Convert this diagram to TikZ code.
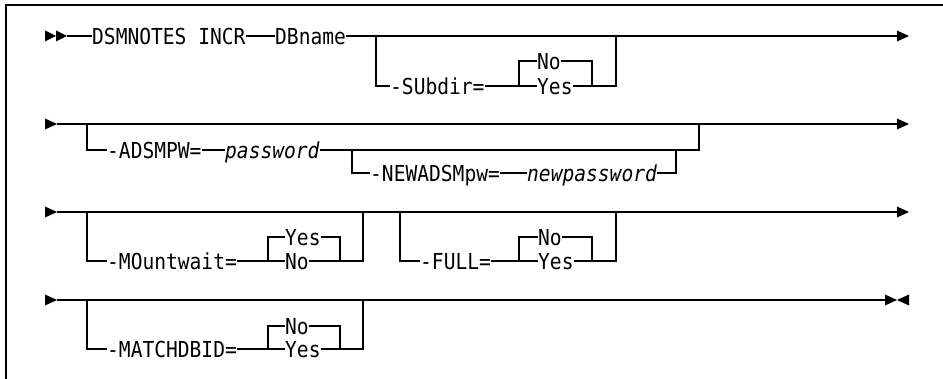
\documentclass[tikz,border=0pt]{standalone}
\usepackage{fontspec}
\newfontfamily\railfont[FakeStretch=0.89]{DejaVu Sans Mono}
\usepackage{tikz}

\tikzset{
  rail/.style={line width=1.2pt},
  frame/.style={line width=1.6pt},
  kw/.style={anchor=west, font=\railfont\fontsize{22}{22}\selectfont,
    inner xsep=0pt, inner ysep=0pt, text height=17pt, text depth=0pt},
  arg/.style={font=\railfont\fontsize{22}{22}\selectfont\itshape},
  pics/railin/.style={code={\fill (-12,-5.5) -- (0,0) -- (-12,5.5) -- cycle;}},
  pics/dblin/.style={code={\fill (-22,-5.5) -- (-11,0) -- (-22,5.5) -- cycle;
      \fill (-11,-5.5) -- (0,0) -- (-11,5.5) -- cycle;}},
  pics/railout/.style={code={\fill (0,-5.5) -- (12,0) -- (0,5.5) -- cycle;}},
  pics/railstop/.style={code={\fill (0,-5.5) -- (12,0) -- (0,5.5) -- cycle;
      \fill (24,-5.5) -- (12,0) -- (24,5.5) -- cycle;}},
}

\begin{document}
\begin{tikzpicture}[x=1pt,y=-1pt]
  \useasboundingbox (0,0) rectangle (943,379);
  \draw[frame] (6,380) -- (6,5) -- (944,5);

  % first line
  \coordinate (r1s) at (67,36);
  \coordinate (r1e) at (897,36);
  \pic at (r1s) {dblin};
  \pic at (r1e) {railout};
  \node[kw] (cmd) at (92,36) {DSMNOTES INCR};
  \node[kw] (dbname) at (275,36) {DBname};
  \draw[rail] (r1s) -- (cmd) -- (dbname) -- (r1e);
  \coordinate (o1l) at (376,36);
  \coordinate (o1r) at (616,36);
  \coordinate (i1l) at (519,86);
  \coordinate (i1r) at (592,86);
  \node[kw] (subdir) at (390,86) {-SUbdir=};
  \node[kw] (sno) at (537,61) {No};
  \node[kw] (syes) at (537,86) {Yes};
  \draw[rail] (o1l) |- (subdir) -- (i1l) |- (sno) -| (i1r);
  \draw[rail] (i1l) -- (syes) -- (i1r) -| (o1r);

  % second line
  \coordinate (r2s) at (57,124);
  \coordinate (r2e) at (897,124);
  \pic at (r2s) {railin};
  \pic at (r2e) {railout};
  \draw[rail] (r2s) -- (r2e);
  \coordinate (o2l) at (87,124);
  \coordinate (o2r) at (699,124);
  \coordinate (n2l) at (352,150);
  \coordinate (n2r) at (676,150);
  \node[kw] (adsmpw) at (107,150) {-ADSMPW=};
  \node[kw,arg] (pw) at (225,150) {password};
  \node[kw] (newpw) at (370,173) {-NEWADSMpw=};
  \node[kw,arg] (npw) at (527,173) {newpassword};
  \draw[rail] (o2l) |- (adsmpw) -- (pw) -| (o2r);
  \draw[rail] (n2l) |- (newpw) -- (npw) -| (n2r);

  % third line
  \coordinate (r3s) at (57,212);
  \coordinate (r3e) at (897,212);
  \pic at (r3s) {railin};
  \pic at (r3e) {railout};
  \draw[rail] (r3s) -- (r3e);
  \coordinate (o3l) at (87,212);
  \coordinate (o3r) at (363,212);
  \coordinate (i3l) at (268,261);
  \coordinate (i3r) at (340,261);
  \node[kw] (mount) at (107,261) {-MOuntwait=};
  \node[kw] (myes) at (285,237) {Yes};
  \node[kw] (mno) at (285,261) {No};
  \draw[rail] (o3l) |- (mount) -- (i3l) |- (myes) -| (i3r);
  \draw[rail] (i3l) -- (mno) -- (i3r) -| (o3r);
  \coordinate (f3l) at (400,212);
  \coordinate (f3r) at (616,212);
  \coordinate (j3l) at (519,261);
  \coordinate (j3r) at (592,261);
  \node[kw] (full) at (420,261) {-FULL=};
  \node[kw] (fno) at (538,237) {No};
  \node[kw] (fyes) at (538,261) {Yes};
  \draw[rail] (f3l) |- (full) -- (j3l) |- (fno) -| (j3r);
  \draw[rail] (j3l) -- (fyes) -- (j3r) -| (f3r);

  % last line
  \coordinate (r4s) at (57,300);
  \coordinate (r4e) at (885,300);
  \pic at (r4s) {railin};
  \pic at (r4e) {railstop};
  \draw[rail] (r4s) -- (r4e);
  \coordinate (o4l) at (87,300);
  \coordinate (o4r) at (363,300);
  \coordinate (i4l) at (268,349);
  \coordinate (i4r) at (340,349);
  \node[kw] (match) at (107,349) {-MATCHDBID=};
  \node[kw] (ano) at (285,326) {No};
  \node[kw] (ayes) at (285,349) {Yes};
  \draw[rail] (o4l) |- (match) -- (i4l) |- (ano) -| (i4r);
  \draw[rail] (i4l) -- (ayes) -- (i4r) -| (o4r);
\end{tikzpicture}
\end{document}
